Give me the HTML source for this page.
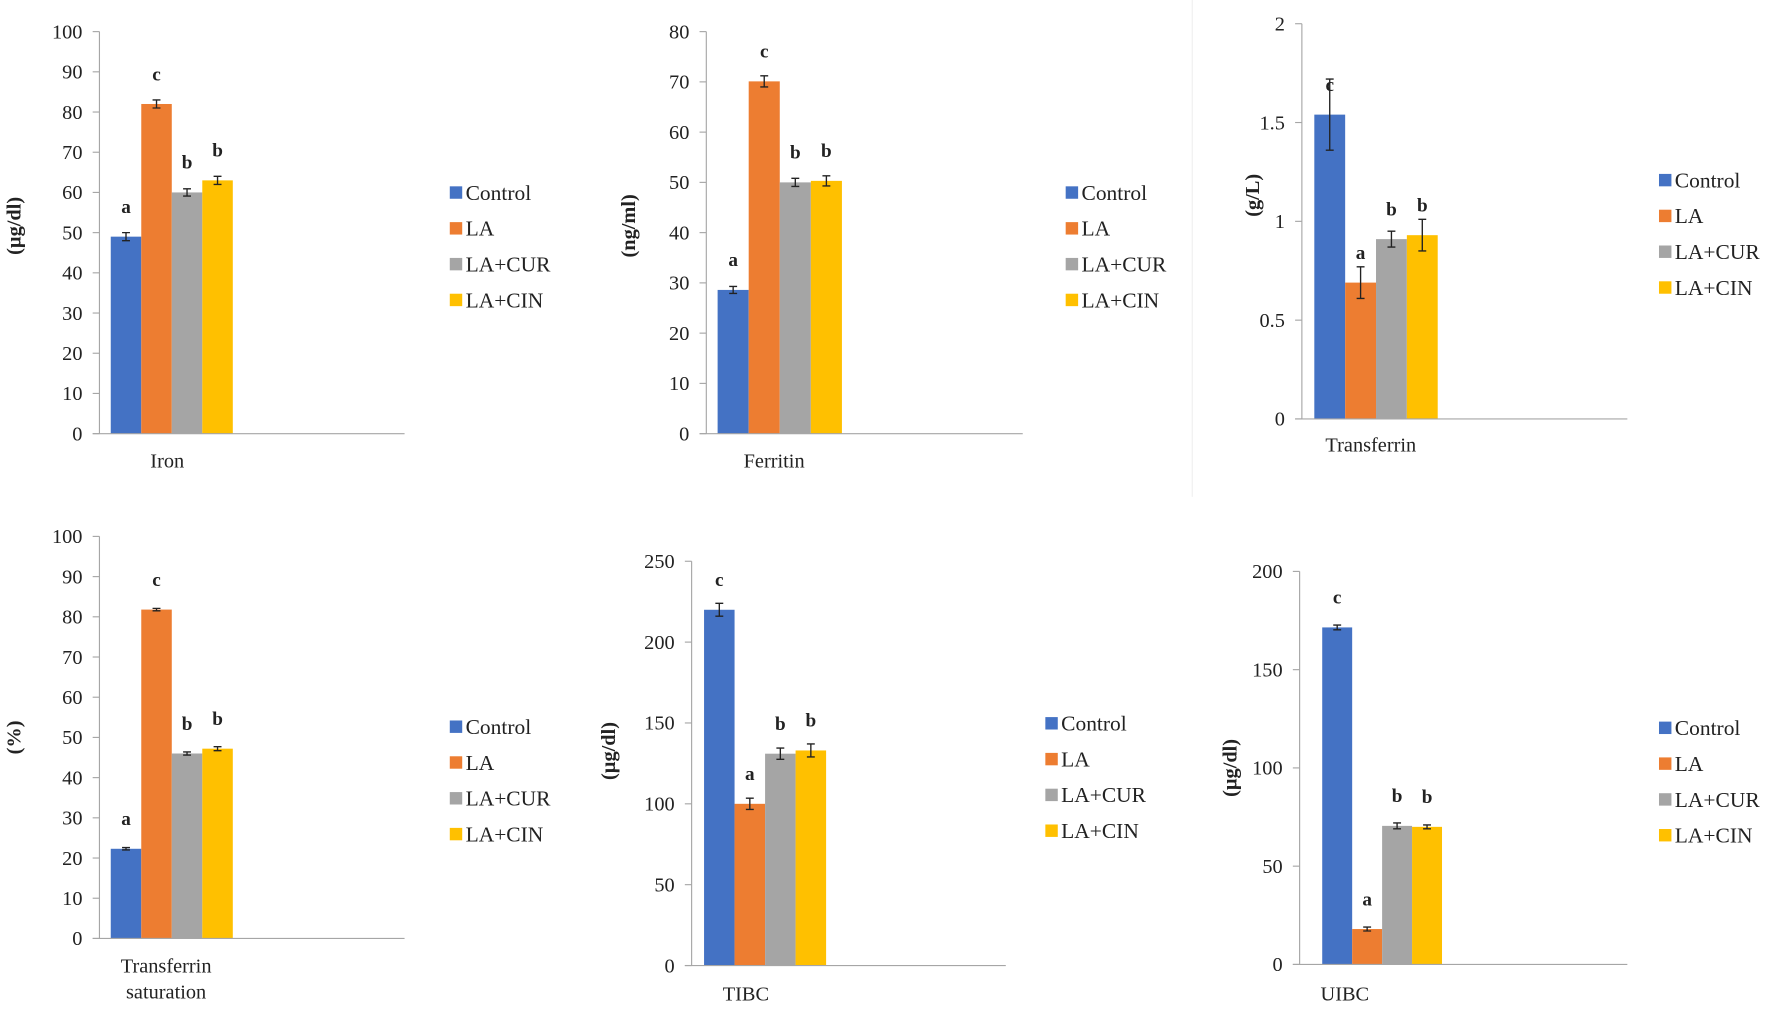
<!DOCTYPE html>
<html><head><meta charset="utf-8"><style>
html,body{margin:0;padding:0;background:#fff;}
svg{display:block;}
text{font-family:"Liberation Serif",serif;fill:#222;}
</style></head><body>
<svg id="chart" width="1772" height="1022" viewBox="0 0 1568 905" preserveAspectRatio="none" xmlns="http://www.w3.org/2000/svg"></svg>
<script>
const groups = ["Control","LA","LA+CUR","LA+CIN"];
const colors = ["#4472C4","#ED7D31","#A5A5A5","#FFC000"];
const panelNames = ["Iron","Ferritin","Transferrin","Transferrin saturation","TIBC","UIBC"];
const unitLabels = ["(µg/dl)","(ng/ml)","(g/L)","(%)","(µg/dl)","(µg/dl)"];
const ironValues = [49,82,60,63];
const ironErrors = [1,1,0.9,1];
const ferritinValues = [28.6,70.1,50,50.3];
const ferritinErrors = [0.7,1.1,0.8,1];
const transferrinValues = [1.54,0.69,0.91,0.93];
const transferrinErrors = [0.18,0.08,0.04,0.08];
const saturationValues = [22.3,81.8,46,47.2];
const saturationErrors = [0.3,0.3,0.4,0.5];
const tibcValues = [220,100,131,133];
const tibcErrors = [4,3.5,3.5,4];
const uibcValues = [171.5,18,70.5,70];
const uibcErrors = [1.2,1,1.5,1];
const ironLetters = ["a","c","b","b"];
const ferritinLetters = ["a","c","b","b"];
const transferrinLetters = ["c","a","b","b"];
const saturationLetters = ["a","c","b","b"];
const tibcLetters = ["c","a","b","b"];
const uibcLetters = ["c","a","b","b"];
const ironTicks = [0,10,20,30,40,50,60,70,80,90,100];
const ferritinTicks = [0,10,20,30,40,50,60,70,80];
const transferrinTicks = [0,0.5,1,1.5,2];
const saturationTicks = [0,10,20,30,40,50,60,70,80,90,100];
const tibcTicks = [0,50,100,150,200,250];
const uibcTicks = [0,50,100,150,200];

const NS="http://www.w3.org/2000/svg";
const svg=document.getElementById('chart');
function mk(tag,attrs,parent){const e=document.createElementNS(NS,tag);for(const k in attrs)e.setAttribute(k,attrs[k]);(parent||svg).appendChild(e);return e;}

const layouts=[
 {ax:88,top:28,y0:384,xend:358,bx:98,bw:27,lx:148,ly:414,tx:18,ty:200,legX:398,legY:171},
 {ax:625,top:28,y0:384,xend:905,bx:635,bw:27.5,lx:685,ly:414,tx:562,ty:200,legX:943,legY:171},
 {ax:1152,top:21,y0:371,xend:1440,bx:1163,bw:27.3,lx:1213,ly:400,tx:1114,ty:173,legX:1468,legY:160},
 {ax:88,top:475,y0:831,xend:358,bx:98,bw:27,lx:147,ly:861,tx:18,ty:653,legX:398,legY:644},
 {ax:612,top:497,y0:855,xend:890,bx:623,bw:27,lx:660,ly:886,tx:544,ty:665,legX:925,legY:641},
 {ax:1150,top:506,y0:854,xend:1440,bx:1170,bw:26.5,lx:1190,ly:886,tx:1094,ty:680,legX:1468,legY:645}
];
const allValues=[ironValues,ferritinValues,transferrinValues,saturationValues,tibcValues,uibcValues];
const allErrors=[ironErrors,ferritinErrors,transferrinErrors,saturationErrors,tibcErrors,uibcErrors];
const allLetters=[ironLetters,ferritinLetters,transferrinLetters,saturationLetters,tibcLetters,uibcLetters];
const allTicks=[ironTicks,ferritinTicks,transferrinTicks,saturationTicks,tibcTicks,uibcTicks];

mk('line',{x1:1055,y1:0,x2:1055,y2:440,stroke:'#f0f0f0','stroke-width':1});

layouts.forEach((L,p)=>{
  const g=mk('g',{});
  
  
  const ticks=allTicks[p];
  const ymax=ticks[ticks.length-1];
  const Y=v=>L.y0-(v/ymax)*(L.y0-L.top);
  ticks.forEach(t=>{
    const tl=mk('line',{x1:L.ax-6,x2:L.ax,y1:Y(t),y2:Y(t),stroke:'#a6a6a6','stroke-width':1},g);
    
    
    const tx=mk('text',{x:L.ax-15,y:Y(t)+6,'text-anchor':'end','font-size':18},g);
    tx.textContent=String(t);
    
    
  });
  const ya=mk('line',{x1:L.ax,x2:L.ax,y1:L.top,y2:L.y0,stroke:'#a6a6a6','stroke-width':1},g);
  
  
  const vals=allValues[p],errs=allErrors[p],lets=allLetters[p];
  vals.forEach((v,i)=>{
    const x=L.bx+i*L.bw;
    const r=mk('rect',{x:x,y:Y(v),width:L.bw,height:L.y0-Y(v),fill:colors[i]},g);
    
    
    const cx=x+L.bw/2, e=errs[i];
    const eb=mk('path',{d:`M${cx},${Y(v+e)}V${Y(v-e)}M${cx-3.5},${Y(v+e)}H${cx+3.5}M${cx-3.5},${Y(v-e)}H${cx+3.5}`,stroke:'#222','stroke-width':1.2,fill:'none'},g);
    
    
    const lt=mk('text',{x:cx,y:Y(v)-21,'text-anchor':'middle','font-size':17,'font-weight':'bold'},g);
    lt.textContent=lets[i];
    
    
  });
  const xa=mk('line',{x1:L.ax-6,x2:L.xend,y1:L.y0,y2:L.y0,stroke:'#a6a6a6','stroke-width':1},g);
  
  
  const name=panelNames[p];
  if(name==='Transferrin saturation'){
    const t1=mk('text',{x:L.lx,y:L.ly,'text-anchor':'middle','font-size':18},g);t1.textContent='Transferrin';
    
    
    const t2=mk('text',{x:L.lx,y:L.ly+23,'text-anchor':'middle','font-size':18},g);t2.textContent='saturation';
    
    
  } else {
    const t=mk('text',{x:L.lx,y:L.ly,'text-anchor':'middle','font-size':18},g);t.textContent=name;
    
    
  }
  const yt=mk('text',{x:0,y:0,'text-anchor':'middle','font-size':18,'font-weight':'bold',transform:`translate(${L.tx},${L.ty}) rotate(-90)`},g);
  yt.textContent=unitLabels[p];
  
  
  groups.forEach((gn,i)=>{
    const yy=L.legY+i*31.7;
    const sq=mk('rect',{x:L.legX,y:yy-6,width:11,height:11,fill:colors[i]},g);
    
    
    const lt=mk('text',{x:L.legX+14,y:yy+6,'font-size':19},g);
    lt.textContent=gn;
    
    
  });
});
</script>
</body></html>
